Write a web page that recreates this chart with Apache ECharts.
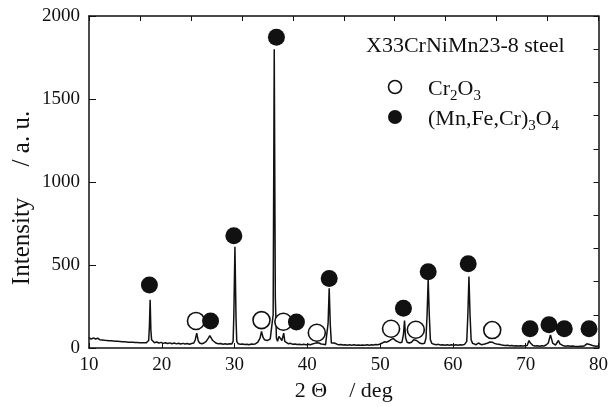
<!DOCTYPE html>
<html>
<head>
<meta charset="utf-8">
<script src="https://cdn.jsdelivr.net/npm/echarts@6/dist/echarts.min.js"></script>
<style>
  html, body { margin: 0; padding: 0; background: #fff; }
  #chart { width: 611px; height: 407px; }
</style>
</head>
<body>
<div id="chart"></div>
<script>
// XRD pattern: [2theta, intensity]
const pattern = [
  [10.0, 62], [10.1, 55], [10.2, 60], [10.3, 53], [10.4, 64], [10.5, 56], [10.6, 61], [10.7, 52],
  [10.8, 60], [10.9, 54], [11.0, 58], [11.1, 51], [11.2, 59], [11.3, 50], [11.4, 56], [11.5, 49],
  [11.6, 56], [11.8, 48], [12.0, 54], [12.15, 46], [12.3, 51], [12.45, 45], [12.6, 52], [12.75, 44],
  [12.9, 49], [13.05, 43], [13.2, 50], [13.35, 42], [13.5, 47], [13.65, 41], [13.8, 48], [13.95, 40],
  [14.1, 45], [14.25, 39], [14.4, 46], [14.55, 38], [14.7, 43], [14.85, 37], [15.0, 44], [15.15, 36],
  [15.3, 41], [15.45, 35], [15.6, 42], [15.75, 35], [15.9, 40], [16.05, 34], [16.2, 41], [16.35, 33],
  [16.5, 39], [16.65, 33], [16.8, 40], [16.95, 32], [17.1, 38], [17.25, 32], [17.4, 38], [17.55, 31],
  [17.7, 37], [17.85, 31], [18.0, 37], [18.2, 45],
  [18.3, 130], [18.4, 290], [18.5, 110], [18.6, 50], [18.8, 38], [19.0, 32], [19.3, 36], [19.6, 30],
  [19.9, 34], [20.2, 28], [20.5, 32], [20.8, 27], [21.1, 31], [21.4, 26], [21.7, 30], [22.0, 25],
  [22.3, 29], [22.6, 24], [22.9, 28], [23.2, 24], [23.5, 27], [23.8, 23], [24.1, 27], [24.4, 30],
  [24.6, 50], [24.8, 90], [25.0, 45], [25.2, 30], [25.5, 26], [25.8, 30], [26.1, 40], [26.4, 60],
  [26.6, 75], [26.8, 60], [27.0, 45], [27.2, 35], [27.5, 28], [27.8, 25], [28.1, 27], [28.4, 23],
  [28.7, 25], [29.0, 22], [29.3, 25], [29.6, 24], [29.8, 40], [29.9, 200], [30.05, 610], [30.2, 180],
  [30.3, 40], [30.5, 25], [30.8, 22], [31.1, 24], [31.4, 21], [31.7, 23], [32.0, 20], [32.3, 24],
  [32.6, 22], [32.9, 26], [33.2, 35], [33.5, 60], [33.7, 100], [33.9, 65], [34.1, 50], [34.3, 60],
  [34.5, 45], [34.7, 40], [34.9, 55], [35.1, 60], [35.3, 200], [35.45, 1800], [35.6, 300], [35.75, 60],
  [35.9, 40], [36.1, 70], [36.2, 60], [36.35, 75], [36.5, 45], [36.6, 55], [36.75, 90], [36.9, 40],
  [37.1, 30], [37.4, 25], [37.7, 28], [38.0, 22], [38.3, 24], [38.6, 21], [38.9, 23], [39.2, 20],
  [39.5, 22], [39.8, 19], [40.1, 23], [40.4, 20], [40.7, 24], [41.0, 28], [41.3, 32], [41.6, 30],
  [41.9, 24], [42.2, 22], [42.5, 20], [42.7, 30], [42.85, 150], [43.0, 360], [43.15, 140], [43.3, 30],
  [43.5, 22], [43.7, 30], [43.9, 20], [44.3, 19], [44.6, 21], [44.9, 18], [45.2, 20], [45.5, 17],
  [45.8, 19], [46.1, 17], [46.4, 19], [46.7, 16], [47.0, 18], [47.3, 16], [47.6, 18], [47.9, 17],
  [48.2, 19], [48.5, 17], [48.8, 19], [49.1, 18], [49.4, 21], [49.7, 20], [50.0, 24], [50.3, 30],
  [50.6, 38], [50.9, 35], [51.2, 42], [51.5, 50], [51.8, 58], [52.1, 45], [52.4, 38], [52.7, 32],
  [53.0, 35], [53.2, 80], [53.35, 165], [53.5, 60], [53.7, 35], [54.0, 30], [54.3, 35], [54.6, 50],
  [54.8, 60], [55.0, 45], [55.2, 35], [55.5, 28], [55.8, 25], [56.1, 28], [56.3, 60], [56.45, 200],
  [56.6, 415], [56.75, 200], [56.9, 50], [57.1, 28], [57.4, 22], [57.7, 20], [58.0, 22], [58.3, 18],
  [58.6, 20], [58.9, 17], [59.2, 19], [59.5, 17], [59.8, 19], [60.1, 17], [60.4, 19], [60.7, 17],
  [61.0, 19], [61.3, 18], [61.6, 22], [61.9, 40], [62.05, 200], [62.2, 430], [62.35, 200], [62.5, 50],
  [62.7, 28], [62.9, 22], [63.2, 20], [63.5, 30], [63.7, 22], [63.9, 20], [64.2, 22], [64.5, 26],
  [64.8, 30], [65.1, 36], [65.4, 35], [65.7, 28], [66.0, 24], [66.3, 22], [66.6, 19], [66.9, 17],
  [67.2, 15], [67.5, 16], [67.8, 13], [68.1, 15], [68.4, 12], [68.7, 14], [69.0, 12], [69.3, 14],
  [69.6, 12], [69.9, 14], [70.2, 15], [70.45, 45], [70.65, 30], [70.8, 20], [71.0, 15], [71.3, 12],
  [71.6, 14], [71.9, 11], [72.2, 13], [72.5, 12], [72.8, 18], [73.1, 30], [73.4, 78], [73.55, 55],
  [73.7, 30], [73.9, 20], [74.1, 18], [74.3, 25], [74.5, 45], [74.7, 25], [74.9, 15], [75.2, 13],
  [75.5, 11], [75.8, 13], [76.1, 10], [76.4, 12], [76.7, 10], [76.9, 11], [77.2, 9], [77.5, 11],
  [77.8, 10], [78.1, 14], [78.4, 25], [78.6, 30], [78.9, 20], [79.3, 13], [79.6, 11], [80.0, 12]
];

// phase markers [2theta, intensity]
const cr2o3Marks = [
  [24.7, 163], [33.7, 168], [36.7, 158], [41.3, 92], [51.5, 116], [54.9, 110], [65.4, 108]
];
const spinelMarks = [
  [18.3, 380], [26.7, 163], [29.9, 676], [35.75, 1872], [38.5, 157], [43.0, 418], [53.2, 240],
  [56.6, 460], [62.1, 507], [70.6, 116], [73.2, 140], [75.3, 116], [78.7, 116]
];

const bottomTicks = { min: 10, max: 80, interval: 10 };
const topTicks = { min: 10, max: 80, interval: 7 };
const leftTicks = { min: 0, max: 2000, interval: 500 };
const rightTicks = { min: 0, max: 2000, interval: 200 };

const FONT = 'Liberation Serif';
const INK = '#111';

const chart = echarts.init(document.getElementById('chart'), null, { renderer: 'canvas' });

const frameAxis = {
  axisLine: { show: true, onZero: false, lineStyle: { color: INK, width: 1.5 } },
  splitLine: { show: false }
};

const option = {
  backgroundColor: '#fff',
  animation: false,
  grid: { left: 89, right: 8, top: 16, bottom: 59 },
  xAxis: [
    Object.assign({
      type: 'value', position: 'bottom', ...bottomTicks,
      axisTick: { inside: true, length: 5, lineStyle: { color: INK } },
      axisLabel: { margin: 8, fontFamily: FONT, fontSize: 19, color: INK },
      name: '2 Θ    / deg', nameLocation: 'middle', nameGap: 30,
      nameTextStyle: { fontFamily: FONT, fontSize: 22, color: INK }
    }, frameAxis),
    Object.assign({
      type: 'value', position: 'top', ...topTicks,
      axisTick: { inside: true, length: 5, lineStyle: { color: INK } },
      axisLabel: { show: false }
    }, frameAxis)
  ],
  yAxis: [
    Object.assign({
      type: 'value', position: 'left', ...leftTicks,
      axisTick: { inside: true, length: 7, lineStyle: { color: INK } },
      axisLabel: {
        margin: 9, fontFamily: FONT, fontSize: 19, color: INK,
        formatter: v => String(v)
      }
    }, frameAxis),
    Object.assign({
      type: 'value', position: 'right', ...rightTicks,
      axisTick: { inside: true, length: 5, lineStyle: { color: INK } },
      axisLabel: { show: false }
    }, frameAxis)
  ],
  series: [
    {
      type: 'line',
      data: pattern,
      symbol: 'none',
      lineStyle: { color: INK, width: 1.5 },
      z: 2
    },
    {
      type: 'scatter',
      data: cr2o3Marks,
      symbol: 'circle',
      symbolSize: 17,
      itemStyle: { color: '#fff', borderColor: INK, borderWidth: 1.6, opacity: 1 },
      z: 3
    },
    {
      type: 'scatter',
      data: spinelMarks,
      symbol: 'circle',
      symbolSize: 17,
      itemStyle: { color: INK, opacity: 1 },
      z: 3
    }
  ],
  graphic: [
    {
      type: 'text', x: 22, y: 198, rotation: Math.PI / 2,
      style: {
        text: 'Intensity     / a. u.', fontFamily: FONT, fontSize: 25, fill: INK,
        textAlign: 'center', textVerticalAlign: 'middle'
      }
    },
    {
      type: 'text', x: 366, y: 46,
      style: {
        text: 'X33CrNiMn23-8 steel', fontFamily: FONT, fontSize: 22, fill: INK,
        textVerticalAlign: 'middle'
      }
    },
    {
      type: 'circle', shape: { cx: 395, cy: 87, r: 6.5 },
      style: { fill: '#fff', stroke: INK, lineWidth: 1.6 }
    },
    {
      type: 'text', x: 428, y: 89,
      style: {
        text: '{n|Cr}{s|2}{n|O}{s|3}', fill: INK, textVerticalAlign: 'middle',
        rich: {
          n: { fontFamily: FONT, fontSize: 22, color: INK },
          s: { fontFamily: FONT, fontSize: 15, color: INK, padding: [14, 0, 0, 0] }
        }
      }
    },
    {
      type: 'circle', shape: { cx: 395, cy: 117, r: 7 },
      style: { fill: INK }
    },
    {
      type: 'text', x: 428, y: 119,
      style: {
        text: '{n|(Mn,Fe,Cr)}{s|3}{n|O}{s|4}', fill: INK, textVerticalAlign: 'middle',
        rich: {
          n: { fontFamily: FONT, fontSize: 22, color: INK },
          s: { fontFamily: FONT, fontSize: 15, color: INK, padding: [14, 0, 0, 0] }
        }
      }
    }
  ]
};

chart.setOption(option);
</script>
</body>
</html>
